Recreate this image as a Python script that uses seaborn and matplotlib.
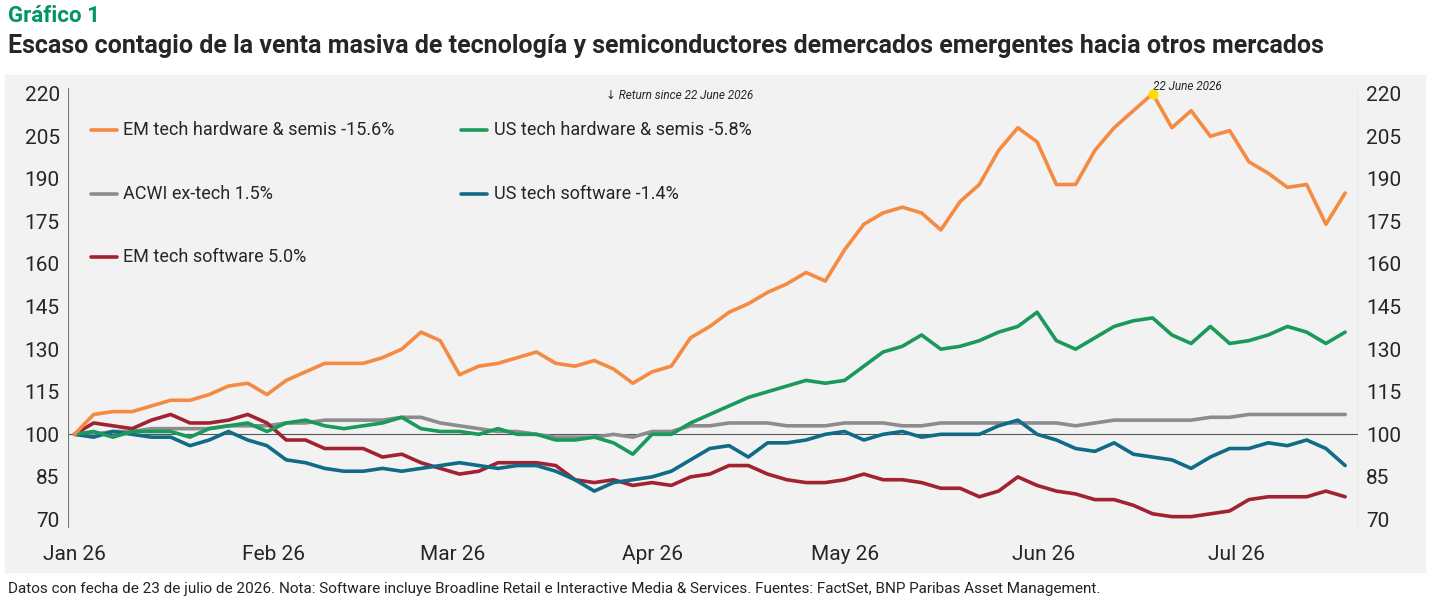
import matplotlib
matplotlib.use("Agg")
import matplotlib.pyplot as plt
import matplotlib.patches as mpatches
import seaborn as sns
import pandas as pd
import numpy as np

sns.set_style("white")
plt.rcParams['font.family'] = ['Roboto', 'DejaVu Sans']

dates = pd.date_range("2026-01-01", periods=67, freq="3D")

em_hw = [100, 107, 108, 108, 110, 112, 112, 114, 117, 118, 114, 119, 122, 125, 125, 125, 127, 130,
         136, 133, 121, 124, 125, 127, 129, 125, 124, 126, 123, 118, 122, 124, 134, 138, 143, 146,
         150, 153, 157, 154, 165, 174, 178, 180, 178, 172, 182, 188, 200, 208, 203, 188, 188, 200,
         208, 214, 220, 208, 214, 205, 207, 196, 192, 187, 188, 174, 185]
us_hw = [100, 101, 99, 101, 101, 101, 99, 102, 103, 104, 101, 104, 105, 103, 102, 103, 104, 106,
         102, 101, 101, 100, 102, 100, 100, 98, 98, 99, 97, 93, 100, 100, 104, 107, 110, 113, 115,
         117, 119, 118, 119, 124, 129, 131, 135, 130, 131, 133, 136, 138, 143, 133, 130, 134, 138,
         140, 141, 135, 132, 138, 132, 133, 135, 138, 136, 132, 136]
acwi = [100, 100, 101, 101, 102, 102, 102, 102, 103, 103, 103, 104, 104, 105, 105, 105, 105, 106,
        106, 104, 103, 102, 101, 101, 100, 99, 99, 99, 100, 99, 101, 101, 103, 103, 104, 104, 104,
        103, 103, 103, 104, 104, 104, 103, 103, 104, 104, 104, 104, 104, 104, 104, 103, 104, 105,
        105, 105, 105, 105, 106, 106, 107, 107, 107, 107, 107, 107]
us_sw = [100, 99, 101, 100, 99, 99, 96, 98, 101, 98, 96, 91, 90, 88, 87, 87, 88, 87, 88, 89, 90,
         89, 88, 89, 89, 87, 84, 80, 83, 84, 85, 87, 91, 95, 96, 92, 97, 97, 98, 100, 101, 98, 100,
         101, 99, 100, 100, 100, 103, 105, 100, 98, 95, 94, 97, 93, 92, 91, 88, 92, 95, 95, 97, 96,
         98, 95, 89]
em_sw = [100, 104, 103, 102, 105, 107, 104, 104, 105, 107, 104, 98, 98, 95, 95, 95, 92, 93, 90, 88,
         86, 87, 90, 90, 90, 89, 84, 83, 84, 82, 83, 82, 85, 86, 89, 89, 86, 84, 83, 83, 84, 86, 84,
         84, 83, 81, 81, 78, 80, 85, 82, 80, 79, 77, 77, 75, 72, 71, 71, 72, 73, 77, 78, 78, 78, 80, 78]

labels = ["EM tech hardware & semis -15.6%", "US tech hardware & semis -5.8%", "ACWI ex-tech 1.5%",
          "US tech software -1.4%", "EM tech software 5.0%"]
colors = ["#f58a42", "#1a9a5a", "#8c8c8c", "#0f6b86", "#a32232"]
series = [em_hw, us_hw, acwi, us_sw, em_sw]
yticks = [70, 85, 100, 115, 130, 145, 160, 175, 190, 205, 220]
month_ticks = pd.to_datetime(["2026-01-01", "2026-02-01", "2026-03-01", "2026-04-01",
                              "2026-05-01", "2026-06-01", "2026-07-01"])
month_labels = ["Jan 26", "Feb 26", "Mar 26", "Apr 26", "May 26", "Jun 26", "Jul 26"]

fig = plt.figure(figsize=(14.31, 6.01), dpi=100)
fig.patches.append(mpatches.Rectangle((5 / 1431, 1 - 572 / 601), 1420 / 1431, 497 / 601,
                                      transform=fig.transFigure, color="#f2f2f2", zorder=-1))
ax = fig.add_axes([68 / 1431, 1 - 528 / 601, (1358 - 68) / 1431, (528 - 88) / 601])
ax.set_facecolor("#f2f2f2")

order = [2, 4, 3, 1, 0]
for i in order:
    sns.lineplot(x=dates, y=series[i], color=colors[i], lw=2.6, ax=ax)

ax.set_xlabel("")
ax.set_ylabel("")
ax.set_ylim(67, 222)
ax.set_xlim(dates[0] - pd.Timedelta(days=1), dates[-1] + pd.Timedelta(days=2))
ax.set_yticks(yticks)
ax.set_yticklabels([str(t) for t in yticks], fontsize=15)
ax.set_xticks(month_ticks)
ax.set_xticklabels(month_labels, fontsize=15)
ax.tick_params(axis="x", pad=12, length=0)
ax.tick_params(axis="y", length=0, pad=6)
for s in ax.spines.values():
    s.set_visible(False)
ax.axhline(100, color="#555555", lw=0.8, zorder=0)
ax2 = ax.twinx()
ax2.set_ylim(ax.get_ylim())
ax2.set_yticks(yticks)
ax2.set_yticklabels([str(t) for t in yticks], fontsize=15)
ax2.tick_params(axis="y", length=0, pad=6)
for s in ax2.spines.values():
    s.set_visible(False)
ax.axvline(ax.get_xlim()[0], color="#777777", lw=0.8)
ax.axvline(ax.get_xlim()[1], color="#777777", lw=0.8)

pos = [(0.018, 0.905), (0.305, 0.905), (0.018, 0.760), (0.305, 0.760), (0.018, 0.615)]
for i, (px, py) in enumerate(pos):
    ax.plot([px, px + 0.02], [py, py], color=colors[i], lw=2.6, transform=ax.transAxes)
    ax.text(px + 0.025, py, labels[i], fontsize=13, va="center", transform=ax.transAxes)

peak = int(np.argmax(em_hw))
ax.scatter([dates[peak]], [em_hw[peak]], s=40, color="#ffe000", zorder=5)
ax.text(dates[peak], em_hw[peak] + 0.3, "22 June 2026", fontsize=8.5, style="italic",
        ha="left", va="bottom", transform=ax.transData)
ax.text(0.417, 0.975, "\u2193 Return since 22 June 2026", fontsize=8.5, style="italic",
        transform=ax.transAxes)

fig.text(8 / 1431, 1 - 16 / 601, "Gráfico 1", fontsize=16, fontweight="bold", color="#00965e",
         va="center")
fig.text(8 / 1431, 1 - 46 / 601,
         "Escaso contagio de la venta masiva de tecnología y semiconductores demercados emergentes hacia otros mercados",
         fontsize=18, fontweight="bold", va="center")
fig.text(8 / 1431, 1 - 589 / 601,
         "Datos con fecha de 23 de julio de 2026. Nota: Software incluye Broadline Retail e Interactive Media & Services. Fuentes: FactSet, BNP Paribas Asset Management.",
         fontsize=11, va="center", color="#222222")

fig.savefig("out.png", dpi=100)
